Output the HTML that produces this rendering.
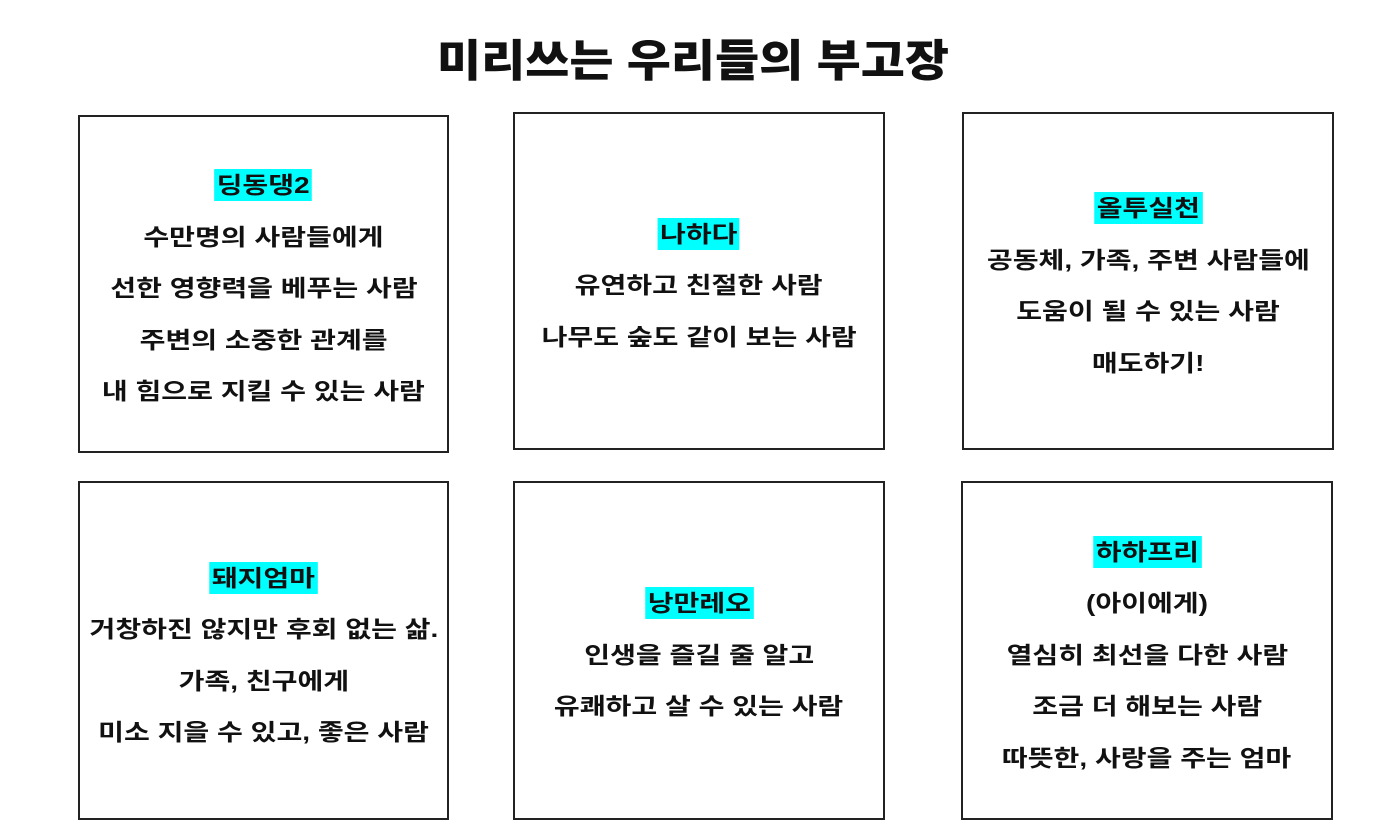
<!DOCTYPE html>
<html><head><meta charset="utf-8"><style>
body{margin:0;width:1398px;height:825px;background:#fff;font-family:"Liberation Sans","Noto Sans CJK KR","NanumGothic",sans-serif;position:relative;overflow:hidden;color:#111}
h1{position:absolute;left:0;width:1386px;top:32px;margin:0;text-align:center;font-size:44px;font-weight:900;line-height:60px;transform:scaleX(1.09)}
.b{position:absolute;box-sizing:border-box;border:2px solid #222;display:flex;flex-direction:column;justify-content:center;align-items:center;padding-top:10px}
.b div{font-size:23px;font-weight:bold;line-height:51.5px;height:51.5px;white-space:nowrap;transform:scaleX(1.22)}
.b span{background:#00ffff;padding:3px 2px}
</style></head><body>
<h1>미리쓰는 우리들의 부고장</h1>
<div class="b" style="left:78px;top:115px;width:371px;height:338px"><div><span>딩동댕2</span></div><div>수만명의 사람들에게</div><div>선한 영향력을 베푸는 사람</div><div>주변의 소중한 관계를</div><div>내 힘으로 지킬 수 있는 사람</div></div>
<div class="b" style="left:513px;top:112px;width:372px;height:338px"><div><span>나하다</span></div><div>유연하고 친절한 사람</div><div>나무도 숲도 같이 보는 사람</div></div>
<div class="b" style="left:962px;top:112px;width:372px;height:338px"><div><span>올투실천</span></div><div>공동체, 가족, 주변 사람들에</div><div>도움이 될 수 있는 사람</div><div>매도하기!</div></div>
<div class="b" style="left:78px;top:481px;width:371px;height:339px"><div><span>돼지엄마</span></div><div>거창하진 않지만 후회 없는 삶.</div><div>가족, 친구에게</div><div>미소 지을 수 있고, 좋은 사람</div></div>
<div class="b" style="left:513px;top:481px;width:372px;height:339px"><div><span>낭만레오</span></div><div>인생을 즐길 줄 알고</div><div>유쾌하고 살 수 있는 사람</div></div>
<div class="b" style="left:961px;top:481px;width:372px;height:339px"><div><span>하하프리</span></div><div>(아이에게)</div><div>열심히 최선을 다한 사람</div><div>조금 더 해보는 사람</div><div>따뜻한, 사랑을 주는 엄마</div></div>
</body></html>
